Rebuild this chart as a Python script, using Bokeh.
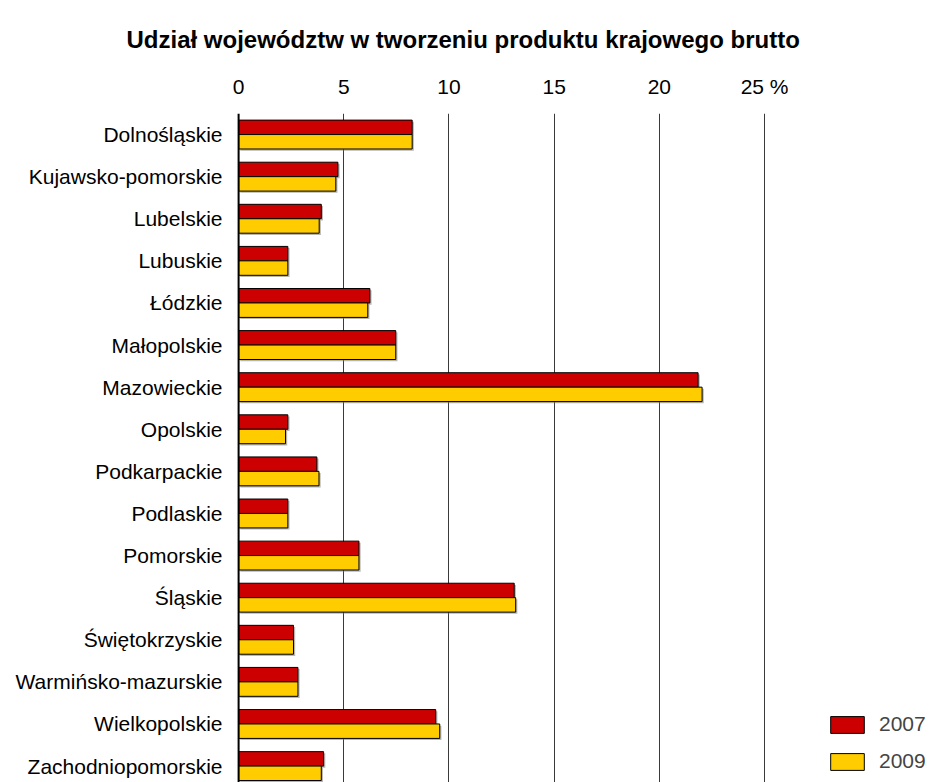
from bokeh.plotting import figure
from bokeh.models import Range1d, FixedTicker, Span, Legend, LegendItem, ColumnDataSource
from bokeh.embed import file_html
from bokeh.resources import INLINE

regions = ["Dolnośląskie", "Kujawsko-pomorskie", "Lubelskie", "Lubuskie", "Łódzkie",
           "Małopolskie", "Mazowieckie", "Opolskie", "Podkarpackie", "Podlaskie",
           "Pomorskie", "Śląskie", "Świętokrzyskie", "Warmińsko-mazurskie",
           "Wielkopolskie", "Zachodniopomorskie"]
v2007 = [8.25, 4.72, 3.93, 2.34, 6.24, 7.47, 21.84, 2.34, 3.72, 2.34, 5.72, 13.10, 2.61, 2.82, 9.37, 4.04]
v2009 = [8.25, 4.62, 3.83, 2.34, 6.14, 7.47, 22.03, 2.23, 3.82, 2.34, 5.72, 13.17, 2.61, 2.82, 9.56, 3.93]
series = ["2007", "2009"]
colors = ["#CC0000", "#FFCC00"]
x_ticks = [0, 5, 10, 15, 20, 25]
x_tick_labels = ["0", "5", "10", "15", "20", "25 %"]
title = "Udział województw w tworzeniu produktu krajowego brutto"

FONT = "Liberation Sans"
BAR_H = 0.343

p = figure(width=933, height=782, output_backend="svg", toolbar_location=None,
           x_axis_location="above",
           x_range=Range1d(-0.1, 33.03), y_range=Range1d(15.39, -0.5),
           min_border_left=236, min_border_right=0, min_border_top=113, min_border_bottom=0)
p.outline_line_color = None
p.background_fill_color = "white"

idx = list(range(len(regions)))
renderers = []
for k, (vals, col) in enumerate(zip([v2007, v2009], colors)):
    off = -BAR_H / 2 if k == 0 else BAR_H / 2
    ys = [i + off for i in idx]
    src = ColumnDataSource(dict(y=ys, right=vals, ys=[y + 0.04 for y in ys],
                                rs=[v + 0.08 for v in vals]))
    p.hbar(y="ys", left=0.08, right="rs", height=BAR_H, source=src,
           fill_color="#7a7a7a", fill_alpha=0.55, line_color=None)
    r = p.hbar(y="y", left=0, right="right", height=BAR_H, source=src,
               fill_color=col, line_color="black", line_width=1)
    renderers.append(r)

# axes
xa = p.xaxis[0]
xa.ticker = FixedTicker(ticks=x_ticks)
xa.major_label_overrides = {t: l for t, l in zip(x_ticks, x_tick_labels)}
xa.axis_line_color = None
xa.major_tick_line_color = None
xa.minor_tick_line_color = None
xa.major_label_text_font = FONT
xa.major_label_text_font_size = "21px"
xa.major_label_text_color = "black"
xa.major_label_standoff = 10

ya = p.yaxis[0]
ya.ticker = FixedTicker(ticks=idx)
ya.major_label_overrides = {i: n for i, n in zip(idx, regions)}
ya.axis_line_color = None
ya.major_tick_line_color = None
ya.minor_tick_line_color = None
ya.major_label_text_font = FONT
ya.major_label_text_font_size = "21px"
ya.major_label_text_color = "black"
ya.major_label_standoff = 8

p.xgrid.ticker = FixedTicker(ticks=x_ticks[1:])
p.xgrid.grid_line_color = "#3a3a3a"
p.xgrid.grid_line_width = 1
p.ygrid.grid_line_color = None

p.add_layout(Span(location=0, dimension="height", line_color="black", line_width=2))

legend = Legend(items=[LegendItem(label=s, renderers=[r]) for s, r in zip(series, renderers)],
                location=(590, 9))
legend.padding = 0
legend.margin = 0
legend.spacing = 13
legend.glyph_width = 42
legend.glyph_height = 21
legend.label_height = 21
legend.label_standoff = 11
legend.label_text_font = FONT
legend.label_text_font_size = "21px"
legend.border_line_color = None
legend.background_fill_alpha = 0
p.add_layout(legend)

p.title.text = title
p.title.text_font = FONT
p.title.text_font_size = "24px"
p.title.text_font_style = "bold"
p.title.text_color = "black"
p.title.align = "left"
p.title.offset = -110
p.title.standoff = 38

open("out.html", "w").write(file_html(p, INLINE))
